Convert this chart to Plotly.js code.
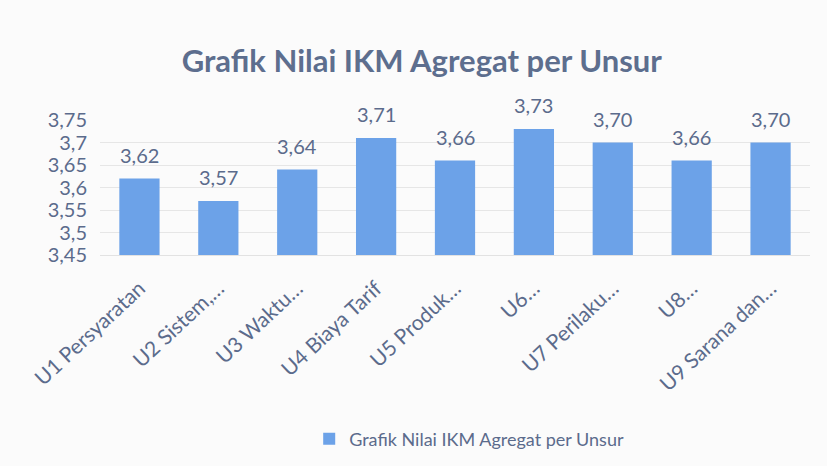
<!DOCTYPE html>
<html>
<head>
<meta charset="utf-8">
<script src="https://cdn.plot.ly/plotly-3.0.1.min.js"></script>
<style>
  body { margin: 0; background: #fbfbfb; }
  #chart { width: 827px; height: 466px; }
</style>
</head>
<body>
<div id="chart"></div>
<script>
var unsur = ['U1 Persyaratan', 'U2 Sistem,…', 'U3 Waktu…', 'U4 Biaya Tarif', 'U5 Produk…',
             'U6…', 'U7 Perilaku…', 'U8…', 'U9 Sarana dan…'];
var nilai = [3.62, 3.57, 3.64, 3.71, 3.66, 3.73, 3.70, 3.66, 3.70];
var yTicks = [3.45, 3.5, 3.55, 3.6, 3.65, 3.7, 3.75];

var textColor = '#5b6b8c';
var barColor = '#6ca2e8';

var trace = {
    x: unsur,
    y: nilai,
    type: 'bar',
    name: 'Grafik Nilai IKM Agregat per Unsur',
    marker: {color: barColor},
    hoverinfo: 'x+y'
};

// value labels above each bar
var labels = unsur.map(function(u, i) {
    return {
        x: u, y: nilai[i], text: nilai[i].toFixed(2).replace('.', ','),
        showarrow: false, yanchor: 'bottom', yshift: 10,
        font: {size: 20, color: textColor}
    };
});

var layout = {
    width: 827,
    height: 466,
    paper_bgcolor: '#fbfbfb',
    plot_bgcolor: '#fbfbfb',
    font: {family: 'Lato, "Open Sans", sans-serif', color: textColor},
    separators: ',.',
    title: {
        text: '<b>Grafik Nilai IKM Agregat per Unsur</b>',
        font: {size: 31, color: '#5d6e8e'},
        x: 0.51, xanchor: 'center',
        y: 0.868, yanchor: 'middle'
    },
    margin: {l: 100, r: 17, t: 120, b: 211},
    bargap: 0.49,
    showlegend: true,
    legend: {
        orientation: 'h',
        x: 0.52, xanchor: 'center',
        yref: 'container', y: 0.058, yanchor: 'middle',
        font: {size: 18, color: textColor},
        itemwidth: 30
    },
    xaxis: {
        tickangle: -43,
        tickfont: {size: 21, color: textColor},
        showline: true,
        linecolor: '#e2e2e2',
        ticks: '',
        ticklabelstandoff: 12
    },
    yaxis: {
        range: [3.45, 3.75],
        tickvals: yTicks,
        ticktext: yTicks.map(v => String(v).replace('.', ',')),
        tickfont: {size: 20, color: textColor},
        gridcolor: '#e6e6e6',
        zeroline: false,
        ticks: '',
        ticklabelstandoff: 12
    },
    annotations: labels
};

Plotly.newPlot('chart', [trace], layout, {displayModeBar: false});
</script>
</body>
</html>
